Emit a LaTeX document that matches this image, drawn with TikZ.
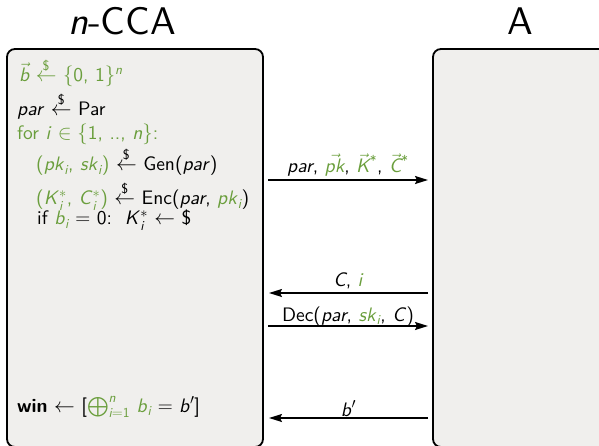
\documentclass[tikz,border=0pt]{standalone}
\usepackage{amsmath,amssymb}
\usepackage{fontspec}
\setsansfont{lmsans10-regular.otf}[ItalicFont=lmsans10-oblique.otf,BoldFont=lmsans10-bold.otf]
\usetikzlibrary{arrows.meta}
\renewcommand{\familydefault}{\sfdefault}
\definecolor{grn}{RGB}{106,158,60}
\definecolor{panel}{RGB}{240,239,237}
% sans-serif italic variables, as on slides
\newcommand{\va}[1]{\textit{#1}}
\newcommand{\gr}[1]{\textcolor{grn}{#1}}
\newcommand{\sub}[1]{\ensuremath{_{\textit{#1}}}}
\newcommand{\sampl}{\ensuremath{\overset{\textsf{\$}}{\leftarrow}}}
\begin{document}
\begin{tikzpicture}[x=1pt,y=-1pt,
  party/.style={draw=black,line width=1.8pt,fill=panel,rounded corners=8pt},
  title/.style={anchor=base,inner sep=0pt,font=\fontsize{38.5}{44}\selectfont\sffamily},
  code/.style={anchor=base west,inner sep=0pt,font=\fontsize{19.5}{23}\selectfont\sffamily},
  msg/.style={line width=1.6pt,-{Stealth[length=13pt,width=8pt,inset=2pt]}},
  lbl/.style={anchor=base,inner sep=0pt,font=\fontsize{19.5}{23}\selectfont\sffamily}]
\useasboundingbox (0,0) rectangle (599,446);
% the two parties
\node[title] (tc) at (122,35) {\textit{n}-CCA};
\node[title] (ta) at (520,35) {A};
\draw[party] (7,49) rectangle (263,447);
\draw[party] (433,49) rectangle (612,447);
% challenger's code
\node[code] (l1) at (19,82) {\gr{$\vec{\textit{b}}$ \sampl\ $\{$0, 1$\}^{\textit{n}}$}};
\node[code] (l2) at (17,116) {\va{par} \sampl\ Par};
\node[code] (l3) at (17,140) {\gr{for \va{i} $\in\{$1, .., \va{n}$\}$:}};
\node[code] (l4) at (36,171) {\gr{(\va{pk}\sub{i}, \va{sk}\sub{i})} \sampl\ Gen(\va{par})};
\node[code] (l5) at (36,205) {\gr{(\va{K}$^{*}_{\textit{i}}$, \va{C}$^{*}_{\textit{i}}$)} \sampl\ Enc(\va{par}, \gr{\va{pk}\sub{i}})};
\node[code] (l6) at (37,225) {if \gr{\va{b}\sub{i}} $=$ 0:\ \ \va{K}$^{*}_{\textit{i}}$ $\leftarrow$ \$};
\node[code] (l7) at (17,412) {\textbf{win} $\leftarrow$ [\gr{$\bigoplus_{\textit{i}=\textsf{1}}^{\textit{n}}$ \va{b}\sub{i}} $=$ \va{b}$'$]};
% messages
\coordinate (a1) at (268,180); \coordinate (b1) at (428,180);
\coordinate (a2) at (269,293); \coordinate (b2) at (428,293);
\coordinate (a3) at (268,326); \coordinate (b3) at (428,326);
\coordinate (a4) at (269,418); \coordinate (b4) at (428,418);
\draw[msg] (a1) -- (b1) node[lbl,midway,yshift=7pt] (m1) {\va{par}, \gr{$\vec{\textit{pk}}$}, \gr{$\vec{\textit{K}}$\textsuperscript{*}}, \gr{$\vec{\textit{C}}$\textsuperscript{*}}};
\draw[msg] (b2) -- (a2) node[lbl,midway,yshift=7pt] (m2) {\va{C}, \gr{\va{i}}};
\draw[msg] (a3) -- (b3) node[lbl,midway,yshift=5pt] (m3) {Dec(\va{par}, \gr{\va{sk}\sub{i}}, \va{C})};
\draw[msg] (b4) -- (a4) node[lbl,midway,yshift=2pt] (m4) {\va{b}$'$};
\end{tikzpicture}
\end{document}
